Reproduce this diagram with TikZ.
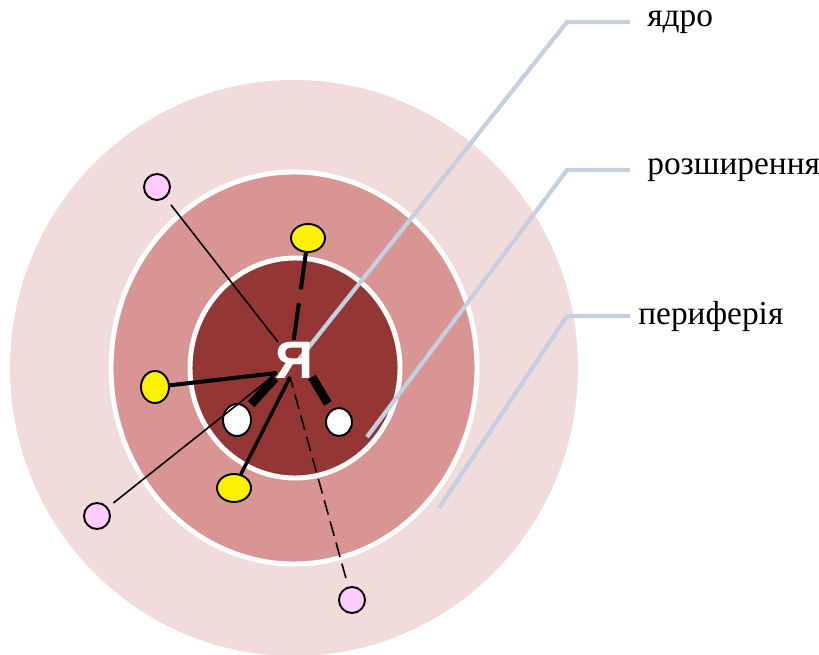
\documentclass[tikz,border=0pt]{standalone}
\usepackage{fontspec}
\setmainfont{Liberation Serif}
\newfontfamily\yafont{Liberation Sans}
\usetikzlibrary{shapes.geometric}
\definecolor{corered}{RGB}{148,54,52}
\definecolor{extred}{RGB}{217,149,148}
\definecolor{perired}{RGB}{242,219,219}
\definecolor{dotpink}{RGB}{255,204,255}
\definecolor{leadblue}{RGB}{196,207,226}

\begin{document}
\begin{tikzpicture}[x=0.02cm, y=-0.02cm,
    dot/.style={ellipse, draw=black, line width=1.1pt, inner sep=0pt},
    pinkdot/.style={dot, fill=dotpink, minimum width=0.52cm, minimum height=0.52cm},
    yellowdot/.style={dot, fill=yellow},
    whitedot/.style={dot, fill=white},
    thinlink/.style={draw=black, line width=0.9pt},
    bar/.style={draw=black, line width=5pt},
    lead/.style={draw=leadblue, line width=2.4pt},
    lbl/.style={anchor=west, inner xsep=0.34cm, inner ysep=0pt, font=\fontsize{19}{22}\selectfont}
]
\useasboundingbox (0,0) rectangle (819,655);

% --- rings ---
\fill[perired] (294,368) ellipse [x radius=284, y radius=288];
\filldraw[fill=extred, draw=white, line width=2.8pt] (294,368) ellipse [x radius=183, y radius=196];
\filldraw[fill=corered, draw=white, line width=2.8pt] (295,368) ellipse [x radius=105, y radius=110];

% --- members ---
\node[pinkdot] (p1) at (157,187) {};
\node[pinkdot] (p2) at (97,516) {};
\node[pinkdot] (p3) at (352,600) {};
\node[yellowdot, minimum width=0.68cm, minimum height=0.56cm] (y1) at (308,238) {};
\node[yellowdot, minimum width=0.56cm, minimum height=0.64cm] (y2) at (155,387) {};
\node[yellowdot, minimum width=0.68cm, minimum height=0.56cm] (y3) at (234,488) {};
\node[whitedot, minimum width=0.56cm, minimum height=0.64cm] (w1) at (237,420) {};
\node[whitedot, minimum width=0.52cm, minimum height=0.56cm] (w2) at (339,422) {};

% hubs near the centre
\coordinate (hubT) at (278,342);
\coordinate (hubY) at (293,345);
\coordinate (hubL) at (277,373);
\coordinate (hubB) at (290,377);
\coordinate (hubW) at (275,378);
\coordinate (hubE) at (312,377);

% --- ties ---
\draw[thinlink, shorten <=5pt] (p1) -- (hubT);
\draw[thinlink, shorten <=4pt] (p2) -- (hubL);
\draw[black, line width=2.3pt] (y2) -- (hubL);
\draw[black, line width=2pt] (y3) -- (hubB);
\draw[black, line width=2.3pt, dash pattern=on 21pt off 8pt] (y1) -- (hubY);
\draw[black, line width=0.9pt, dash pattern=on 8.5pt off 4pt, shorten <=5pt] (p3) -- (hubB);
\draw[bar, shorten <=3pt] (w1) -- (hubW);
\draw[bar, shorten <=4pt] (w2) -- (hubE);

% --- labels ---
\node[lbl] (tcore) at (630,22) {ядро};
\node[lbl] (text) at (630,170) {розширення};
\node[lbl, inner xsep=0.16cm] (tperi) at (630,316) {периферія};

\coordinate (pcore) at (297,362);
\coordinate (pext) at (367,437);
\coordinate (pperi) at (439,508);
\draw[lead] (pcore) -- (567,22) -- (tcore.west);
\draw[lead] (pext) -- (567,170) -- (text.west);
\draw[lead] (pperi) -- (567,316) -- (tperi.west);

\node[text=white, font=\yafont\bfseries\fontsize{30}{30}\selectfont] (me) at (294,360) {Я};
\end{tikzpicture}
\end{document}
